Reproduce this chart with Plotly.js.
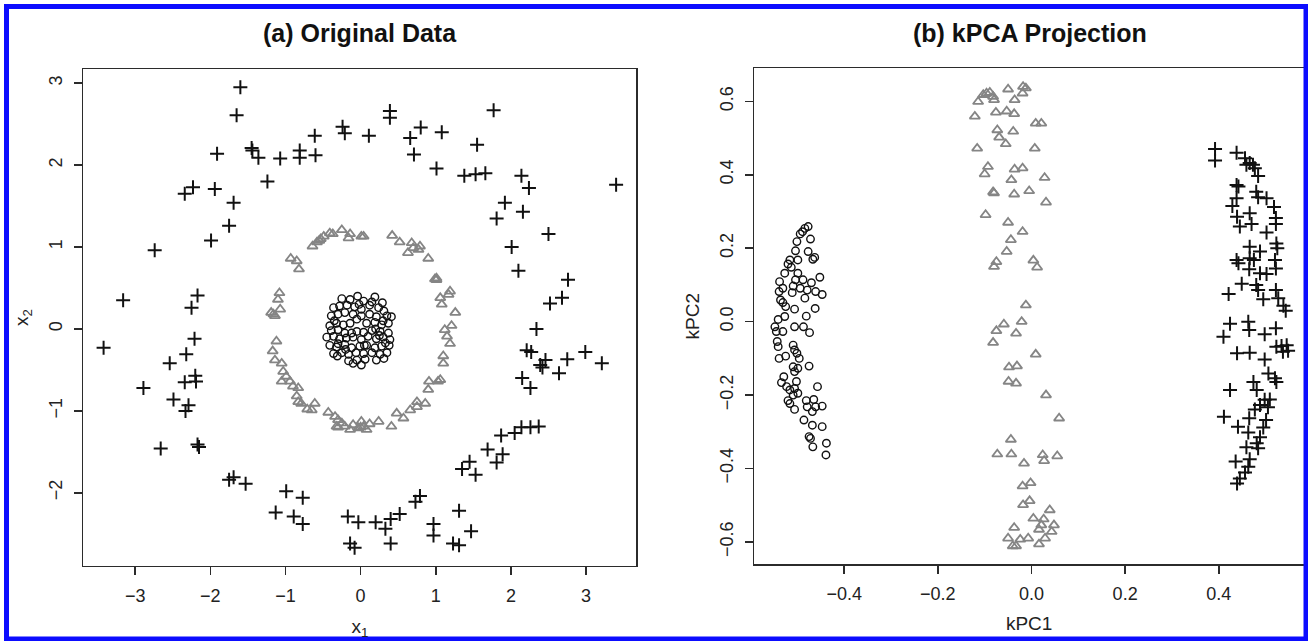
<!DOCTYPE html>
<html>
<head>
<meta charset="utf-8">
<script src="https://cdn.plot.ly/plotly-3.0.1.min.js"></script>
<style>
  html, body { margin: 0; padding: 0; background: #ffffff; }
  #chart { width: 1308px; height: 641px; }
</style>
</head>
<body>
<div id="chart"></div>
<script>
// ---------- Panel (a): original data ----------
const aCrossX = [-1.60,-1.65,1.77,0.39,0.39,-0.24,-0.21,-0.61,0.11,0.66,0.80,1.08,1.55,-1.45,-1.44,-1.36,-1.07,-0.81,-0.81,-0.60,0.71,-1.91,1.01,1.38,1.53,1.66,2.14,2.24,3.40,-1.24,-2.34,-2.23,-1.94,-1.69,1.92,1.81,2.16,-1.75,2.50,-1.99,2.01,-2.74,2.10,2.76,-3.16,-2.17,-2.25,2.52,2.68,
  2.34,-3.42,-2.21,-2.32,-2.54,-2.89,-2.34,-2.20,-2.19,-2.49,-2.29,-2.33,-2.66,-2.17,-2.15,2.21,2.27,2.39,2.46,2.42,2.75,2.99,3.21,2.64,2.15,2.26,2.37,2.26,2.14,2.05,1.87,1.89,1.69,1.81,1.45,1.35,1.53,1.31,1.47,1.23,1.31,0.97,0.97,0.79,0.73,0.52,0.40,0.33,0.20,0.40,-0.03,-0.17,-0.14,-0.08,-0.77,-0.99,-1.13,-0.89,-0.77,-1.75,-1.69,-1.53];
const aCrossY = [2.95,2.61,2.67,2.66,2.58,2.47,2.39,2.36,2.36,2.33,2.46,2.40,2.25,2.21,2.18,2.09,2.08,2.18,2.09,2.12,2.13,2.14,1.96,1.87,1.89,1.90,1.87,1.72,1.76,1.80,1.65,1.73,1.71,1.54,1.54,1.35,1.43,1.26,1.16,1.08,1.00,0.96,0.71,0.60,0.35,0.41,0.26,0.31,0.38,
  0.00,-0.23,-0.12,-0.31,-0.42,-0.72,-0.65,-0.57,-0.64,-0.86,-0.93,-1.00,-1.46,-1.41,-1.44,-0.26,-0.28,-0.44,-0.38,-0.47,-0.37,-0.28,-0.42,-0.54,-0.60,-0.72,-1.19,-1.20,-1.20,-1.27,-1.30,-1.53,-1.47,-1.63,-1.62,-1.71,-1.78,-2.22,-2.47,-2.62,-2.64,-2.38,-2.52,-2.04,-2.11,-2.26,-2.32,-2.44,-2.36,-2.62,-2.36,-2.29,-2.62,-2.67,-2.06,-1.98,-2.24,-2.29,-2.38,-1.84,-1.81,-1.89];

const aTriX = [-0.64,-0.58,-0.53,-0.49,-0.41,-0.37,-0.25,-0.16,-0.14,0.01,0.04,0.42,0.52,0.68,0.70,0.77,0.63,0.79,0.90,
  -0.93,-0.85,-0.82,
  0.99,1.01,1.19,1.17,1.06,1.08,1.26,1.21,1.12,1.15,1.19,1.10,1.10,1.06,1.03,0.91,0.90,
  -1.08,-1.10,-1.07,-1.19,-1.14,-1.12,-1.17,-1.14,-1.05,-1.03,-0.99,-1.05,-0.94,-0.90,-0.83,-0.85,-0.83,-0.79,-0.71,-0.61,-0.65,
  -0.43,-0.34,-0.30,-0.32,-0.25,-0.21,-0.14,-0.10,-0.03,0.01,0.04,0.08,0.12,0.24,0.41,0.48,0.57,0.66,0.75,0.86,0.75,
  -0.55,-1.16,1.01,-0.30,0.00];
const aTriY = [1.01,1.06,1.10,1.13,1.17,1.16,1.21,1.11,1.16,1.13,1.13,1.14,1.06,1.05,0.99,0.97,0.93,1.01,0.86,
  0.86,0.83,0.73,
  0.61,0.60,0.46,0.42,0.38,0.30,0.20,0.04,-0.01,-0.09,-0.18,-0.33,-0.42,-0.62,-0.64,-0.64,-0.74,
  0.44,0.36,0.24,0.20,0.16,-0.15,-0.27,-0.38,-0.42,-0.52,-0.58,-0.64,-0.64,-0.70,-0.72,-0.82,-0.89,-0.91,-0.98,-0.91,-0.99,
  -1.02,-1.07,-1.11,-1.19,-1.15,-1.19,-1.23,-1.17,-1.21,-1.13,-1.19,-1.23,-1.16,-1.13,-1.19,-1.03,-1.09,-0.99,-0.89,-0.91,-0.95,
  1.08,0.18,0.62,-1.20,-1.20];

const aCircX = [-0.25,-0.14,-0.04,0.04,0.19,0.29,-0.36,-0.28,-0.18,-0.08,0.01,0.12,0.24,0.31,-0.39,-0.30,-0.21,-0.10,0.01,0.12,0.21,0.35,0.41,
  -0.41,-0.32,-0.23,-0.14,0.08,0.19,0.28,0.37,-0.39,-0.30,-0.21,-0.05,0.04,0.15,0.26,0.37,
  -0.45,-0.36,-0.28,-0.19,-0.10,0.01,0.10,0.21,0.30,0.39,-0.41,-0.32,-0.21,-0.12,-0.01,0.08,0.19,0.28,0.38,
  -0.36,-0.25,-0.16,-0.06,0.04,0.15,0.26,0.35,-0.16,-0.05,0.06,0.21,0.31,-0.31,0.01,-0.10,
  -0.05,0.25,-0.30,0.15,-0.20,0.33,-0.02,0.05,-0.35,0.20,-0.12,0.30];
const aCircY = [0.37,0.36,0.40,0.34,0.39,0.32,0.26,0.28,0.29,0.27,0.24,0.29,0.26,0.22,0.16,0.18,0.20,0.18,0.16,0.18,0.15,0.16,0.15,
  0.04,0.07,0.05,0.07,0.07,0.08,0.05,0.07,-0.02,-0.01,-0.05,-0.03,-0.04,-0.02,-0.03,-0.05,
  -0.10,-0.09,-0.12,-0.11,-0.10,-0.13,-0.09,-0.12,-0.10,-0.13,-0.20,-0.22,-0.19,-0.23,-0.21,-0.20,-0.23,-0.21,-0.20,
  -0.30,-0.29,-0.31,-0.29,-0.30,-0.29,-0.31,-0.29,-0.39,-0.38,-0.37,-0.38,-0.36,-0.33,-0.44,-0.42,
  0.12,-0.08,-0.18,0.33,-0.25,-0.17,0.30,-0.20,0.10,0.00,-0.05,0.10];

// ---------- Panel (b): kPCA projection ----------
const bCrossX = [0.392,0.392,0.438,0.456,0.459,0.466,0.473,0.477,0.484,0.438,0.442,0.480,0.484,0.502,0.438,0.429,0.518,0.439,0.466,0.522,0.445,0.470,0.522,0.502,0.523,0.525,0.466,0.488,0.438,0.442,0.466,0.475,0.520,0.522,0.465,0.488,0.502,0.449,0.421,0.480,0.484,0.495,0.522,0.527,0.538,0.543,
  0.424,0.463,0.465,0.410,0.498,0.522,0.523,0.534,0.545,0.537,0.548,0.439,0.466,0.498,0.506,0.520,0.523,0.474,0.424,0.481,0.498,0.509,0.488,0.505,0.477,0.411,0.465,0.501,0.441,0.495,0.463,0.488,0.481,0.459,0.484,0.436,0.466,0.463,0.456,0.445,0.439];
const bCrossY = [0.470,0.439,0.460,0.445,0.427,0.432,0.427,0.418,0.397,0.372,0.368,0.354,0.339,0.336,0.336,0.315,0.312,0.286,0.295,0.282,0.259,0.266,0.266,0.243,0.213,0.200,0.204,0.191,0.168,0.159,0.173,0.168,0.168,0.145,0.143,0.132,0.130,0.103,0.075,0.100,0.086,0.061,0.086,0.064,0.043,0.030,
  -0.006,0.000,-0.023,-0.041,-0.034,-0.018,-0.068,-0.066,-0.064,-0.082,-0.079,-0.086,-0.085,-0.103,-0.141,-0.154,-0.164,-0.164,-0.186,-0.186,-0.213,-0.212,-0.227,-0.233,-0.239,-0.259,-0.263,-0.268,-0.286,-0.288,-0.302,-0.315,-0.331,-0.342,-0.345,-0.381,-0.375,-0.395,-0.411,-0.427,-0.441];

const bTriX = [-0.114,-0.103,-0.096,-0.089,-0.082,-0.080,-0.050,-0.036,-0.018,-0.012,-0.019,-0.121,-0.076,-0.053,-0.037,0.009,0.021,-0.073,-0.039,-0.069,-0.055,-0.116,0.007,-0.093,-0.100,-0.036,-0.019,-0.043,0.028,-0.082,-0.080,-0.037,-0.005,0.031,-0.098,-0.050,-0.019,-0.044,-0.053,-0.075,-0.080,0.004,0.012,
  -0.012,-0.021,-0.059,-0.075,-0.033,-0.082,0.009,-0.048,-0.031,-0.049,-0.033,0.031,0.059,-0.044,-0.073,-0.043,-0.016,0.024,0.027,0.055,-0.019,-0.002,-0.018,-0.004,0.004,0.021,0.039,0.026,0.016,0.048,0.043,-0.037,0.029,-0.050,-0.024,-0.007,-0.040,-0.033,0.016];
const bTriY = [0.599,0.618,0.622,0.624,0.613,0.604,0.633,0.604,0.640,0.636,0.622,0.559,0.570,0.573,0.566,0.540,0.540,0.522,0.518,0.502,0.484,0.472,0.472,0.422,0.402,0.415,0.418,0.386,0.392,0.353,0.350,0.347,0.356,0.325,0.291,0.270,0.245,0.223,0.191,0.163,0.150,0.167,0.148,
  0.045,0.000,-0.007,-0.025,-0.032,-0.057,-0.089,-0.124,-0.121,-0.163,-0.168,-0.200,-0.263,-0.321,-0.361,-0.361,-0.386,-0.363,-0.379,-0.366,-0.448,-0.439,-0.499,-0.488,-0.536,-0.554,-0.513,-0.538,-0.566,-0.554,-0.572,-0.561,-0.590,-0.590,-0.593,-0.590,-0.611,-0.611,-0.606];

const bCircX = [-0.477,-0.484,-0.489,-0.494,-0.472,-0.501,-0.504,-0.463,-0.467,-0.516,-0.499,-0.520,-0.513,-0.527,-0.499,-0.452,-0.538,-0.504,-0.488,-0.470,-0.531,-0.509,-0.494,-0.479,-0.461,-0.447,-0.539,-0.511,-0.536,-0.484,-0.531,-0.525,-0.506,-0.462,-0.541,-0.527,-0.481,-0.548,-0.545,-0.531,-0.506,-0.487,-0.474,-0.543,-0.539,-0.525,-0.509,-0.506,-0.501,-0.496,-0.509,-0.506,-0.499,-0.475,-0.529,-0.534,-0.523,-0.516,-0.502,-0.499,-0.509,-0.520,-0.516,-0.506,-0.481,-0.465,-0.457,-0.479,-0.468,-0.461,-0.447,-0.486,-0.468,-0.447,-0.475,-0.472,-0.467,-0.438,-0.439,-0.477,-0.506,-0.541];
const bCircY = [0.259,0.254,0.245,0.239,0.225,0.218,0.193,0.175,0.170,0.168,0.168,0.157,0.148,0.132,0.132,0.121,0.109,0.114,0.114,0.106,0.091,0.097,0.091,0.086,0.082,0.074,0.082,0.079,0.059,0.064,0.052,0.041,0.034,0.036,0.006,0.014,0.015,-0.014,-0.027,-0.027,-0.014,-0.014,-0.030,-0.054,-0.100,-0.094,-0.064,-0.077,-0.086,-0.100,-0.123,-0.136,-0.127,-0.121,-0.150,-0.166,-0.177,-0.186,-0.163,-0.195,-0.200,-0.215,-0.223,-0.239,-0.215,-0.212,-0.177,-0.232,-0.245,-0.232,-0.230,-0.268,-0.282,-0.286,-0.313,-0.318,-0.341,-0.331,-0.363,0.191,-0.182,-0.068];

// ---------- axis ticks ----------
const aXTicks = [-3,-2,-1,0,1,2,3];
const aYTicks = [-2,-1,0,1,2,3];
const bXTicks = [-0.4,-0.2,0.0,0.2,0.4];
const bYTicks = [-0.6,-0.4,-0.2,0.0,0.2,0.4,0.6];

// ---------- styling ----------
const W = 1308, H = 641;
const px = v => v / W;
const py = v => 1 - v / H;
const FONT = '"Liberation Sans", Arial, Helvetica, sans-serif';
const BLACK = '#111111';
const GREY = '#858585';

const crossMarker = {symbol: 'cross-thin-open', size: 10, color: BLACK, line: {width: 2, color: BLACK}};
const triMarker = {symbol: 'triangle-up-open', size: 9, color: GREY, line: {width: 1.8, color: GREY}};
const circMarker = {symbol: 'circle-open', size: 7.5, color: BLACK, line: {width: 1.4, color: BLACK}};

const traces = [
  {type: 'scatter', mode: 'markers', x: aCrossX, y: aCrossY, xaxis: 'x', yaxis: 'y', marker: crossMarker, name: 'outer'},
  {type: 'scatter', mode: 'markers', x: aTriX, y: aTriY, xaxis: 'x', yaxis: 'y', marker: triMarker, name: 'middle'},
  {type: 'scatter', mode: 'markers', x: aCircX, y: aCircY, xaxis: 'x', yaxis: 'y', marker: circMarker, name: 'inner'},
  {type: 'scatter', mode: 'markers', x: bCrossX, y: bCrossY, xaxis: 'x2', yaxis: 'y2', marker: crossMarker, name: 'outer'},
  {type: 'scatter', mode: 'markers', x: bTriX, y: bTriY, xaxis: 'x2', yaxis: 'y2', marker: triMarker, name: 'middle'},
  {type: 'scatter', mode: 'markers', x: bCircX, y: bCircY, xaxis: 'x2', yaxis: 'y2', marker: circMarker, name: 'inner'}
];

const axisBase = {
  showline: true, mirror: true, linecolor: '#2b2b2b', linewidth: 1.6,
  ticks: 'outside', ticklen: 8, tickwidth: 1.5, tickcolor: '#2b2b2b',
  showgrid: false, zeroline: false, tickmode: 'array',
  tickfont: {family: FONT, size: 18, color: '#222222'},
  ticklabelstandoff: 5
};
const titleFont = {family: FONT, size: 19, color: '#222222'};

const layout = {
  width: W, height: H,
  margin: {l: 0, r: 0, t: 0, b: 0},
  paper_bgcolor: '#ffffff', plot_bgcolor: '#ffffff',
  showlegend: false,
  font: {family: FONT},
  xaxis: Object.assign({}, axisBase, {
    domain: [px(83.3), px(636.4)], range: [-3.69, 3.67], anchor: 'y',
    tickvals: aXTicks, ticktext: aXTicks.map(v => v < 0 ? '\u2212' + Math.abs(v) : String(v)),
    title: {text: 'x<sub>1</sub>', font: titleFont, standoff: 15}
  }),
  yaxis: Object.assign({}, axisBase, {
    domain: [py(565.7), py(69.3)], range: [-2.89, 3.17], anchor: 'x',
    tickvals: aYTicks, ticktext: aYTicks.map(v => v < 0 ? '\u2212' + Math.abs(v) : String(v)),
    tickangle: -90,
    title: {text: 'x<sub>2</sub>', font: titleFont, standoff: 12}
  }),
  xaxis2: Object.assign({}, axisBase, {
    domain: [px(754.3), px(1304)], range: [-0.592, 0.582], anchor: 'y2',
    tickvals: bXTicks, ticktext: bXTicks.map(v => (v < 0 ? '\u2212' : '') + Math.abs(v).toFixed(1)),
    title: {text: 'kPC1', font: titleFont, standoff: 13}
  }),
  yaxis2: Object.assign({}, axisBase, {
    domain: [py(564), py(68.3)], range: [-0.660, 0.690], anchor: 'x2',
    tickvals: bYTicks, ticktext: bYTicks.map(v => (v < 0 ? '\u2212' : '') + Math.abs(v).toFixed(1)),
    tickangle: -90,
    title: {text: 'kPC2', font: titleFont, standoff: 12}
  }),
  annotations: [
    {text: '<b>(a) Original Data</b>', xref: 'paper', yref: 'paper', x: px(360), y: py(33),
     xanchor: 'center', yanchor: 'middle', showarrow: false, font: {family: FONT, size: 25, color: '#111111'}},
    {text: '<b>(b) kPCA Projection</b>', xref: 'paper', yref: 'paper', x: px(1030), y: py(33),
     xanchor: 'center', yanchor: 'middle', showarrow: false, font: {family: FONT, size: 25, color: '#111111'}}
  ],
  shapes: [
    {type: 'rect', xref: 'paper', yref: 'paper', x0: px(6.5), x1: px(1306), y0: py(639), y1: py(6.5),
     line: {color: '#0c0cff', width: 5}, fillcolor: 'rgba(0,0,0,0)', layer: 'above'}
  ]
};

Plotly.newPlot('chart', traces, layout, {displayModeBar: false, staticPlot: true});
</script>
</body>
</html>
